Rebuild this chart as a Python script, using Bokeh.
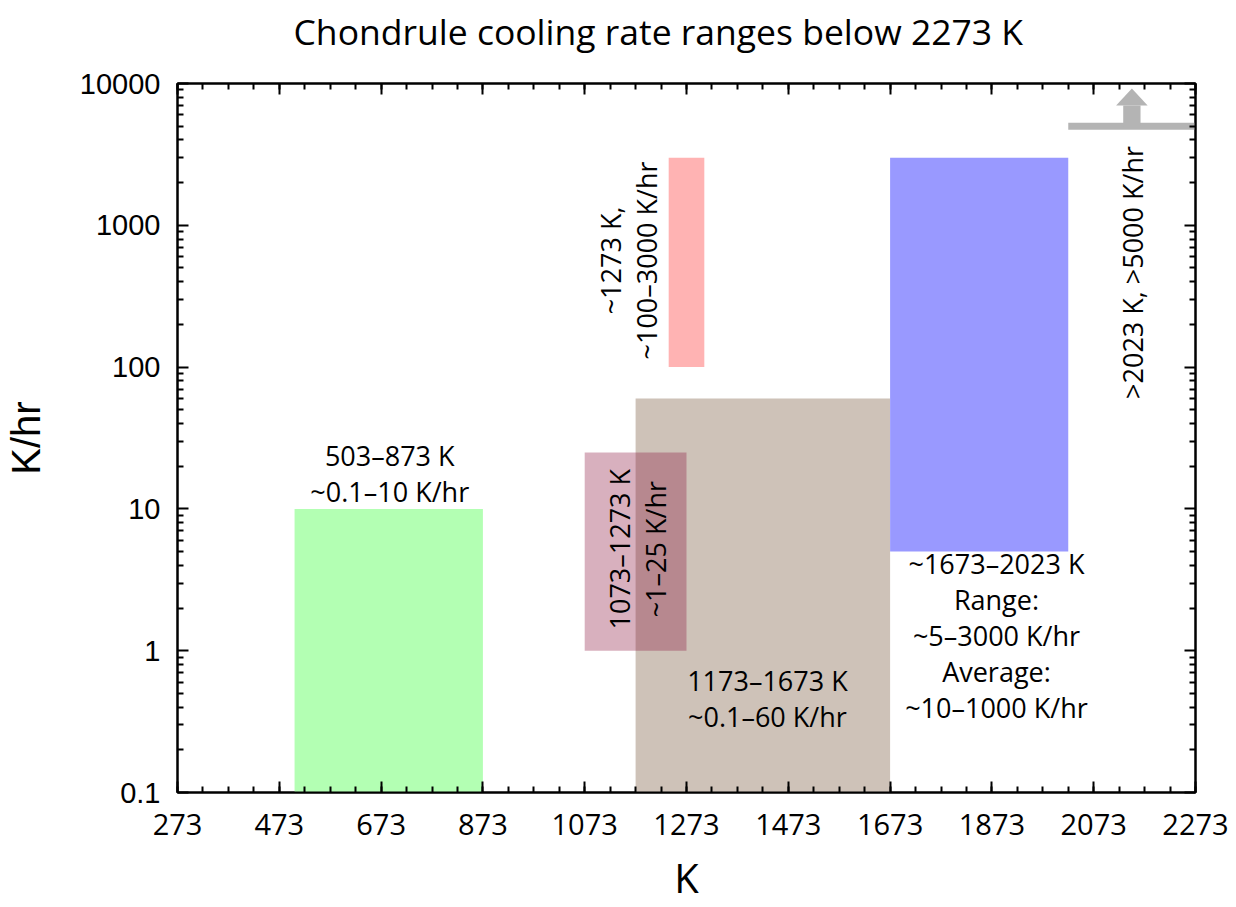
import math
from bokeh.plotting import figure
from bokeh.models import (Range1d, FixedTicker, LinearAxis, LogAxis, CustomJSTickFormatter,
                          ColumnDataSource, Title)
from bokeh.core.properties import value
from bokeh.embed import file_html
from bokeh.resources import INLINE

# ---------------- data ----------------
title_text = "Chondrule cooling rate ranges below 2273 K"
x_label_text = "K"
y_label_text = "K/hr"
x_ticks = [273, 473, 673, 873, 1073, 1273, 1473, 1673, 1873, 2073, 2273]
y_ticks = [0.1, 1, 10, 100, 1000, 10000]

# cooling-rate boxes: temperature range (K) and rate range (K/hr)
box_names = ["tan", "mauve", "green", "pink", "blue"]
box_t_lo = [1173, 1073, 503, 1238, 1673]
box_t_hi = [1673, 1273, 873, 1308, 2023]
box_r_lo = [0.1, 1, 0.1, 100, 5]
box_r_hi = [60, 25, 10, 3000, 3000]
box_colors = ["#cec2b8", "#8d1741", "#b3ffb3", "#ffb3b3", "#9999ff"]
box_alpha = [1.0, 0.34, 1.0, 1.0, 1.0]

# fastest rate: lower bound line + arrow
fast_t_lo = 2023
fast_t_hi = 2273
fast_rate = 5000
arrow_t = 2148
arrow_tip_rate = 9220
arrow_head_base_rate = 7000

# labels (horizontal)
lab_text = ["503–873 K\n~0.1–10 K/hr",
            "1173–1673 K\n~0.1–60 K/hr",
            "~1673–2023 K\nRange:\n~5–3000 K/hr\nAverage:\n~10–1000 K/hr"]
lab_x = [690, 1432, 1882]
lab_y = [17.8, 0.46, 1.28]

# labels (rotated)
rlab_text = ["~1273 K,\n~100–3000 K/hr",
             "1073–1273 K\n~1–25 K/hr",
             ">2023 K, >5000 K/hr"]
rlab_x = [1159, 1177, 2149]
rlab_y = [565, 5.2, 465]

# ---------------- figure ----------------
W, H = 1230, 907
FL, FT, FR, FB = 177, 83, 1195, 792   # frame edges on the page
p = figure(width=W, height=H, output_backend="svg", toolbar_location=None,
           x_range=Range1d(273, 2273), y_range=Range1d(0.1, 10000),
           y_axis_type="log", x_axis_type="linear",
           min_border_left=FL, min_border_right=W - FR, min_border_top=FT,
           min_border_bottom=H - FB)
p.grid.visible = False
p.background_fill_color = "white"
p.border_fill_color = "white"
p.outline_line_color = "black"
p.outline_line_width = 2

src = ColumnDataSource(dict(left=box_t_lo, right=box_t_hi, bottom=box_r_lo, top=box_r_hi,
                            color=box_colors, alpha=box_alpha))
p.quad(left="left", right="right", bottom="bottom", top="top", source=src,
       fill_color="color", fill_alpha="alpha", line_color=None)

# fast-rate bar and arrow
gray = "#b4b4b4"
p.segment(x0=[fast_t_lo], y0=[fast_rate], x1=[fast_t_hi], y1=[fast_rate],
          line_color=gray, line_width=7)
shaft_half = 17
head_half = 31
p.quad(left=[arrow_t - shaft_half], right=[arrow_t + shaft_half],
       bottom=[fast_rate], top=[arrow_head_base_rate], fill_color=gray, line_color=None)
p.patch(x=[arrow_t - head_half, arrow_t + head_half, arrow_t],
        y=[arrow_head_base_rate, arrow_head_base_rate, arrow_tip_rate],
        fill_color=gray, line_color=None)

lsrc = ColumnDataSource(dict(x=lab_x, y=lab_y, text=lab_text))
p.text(x="x", y="y", text="text", source=lsrc, text_font=value("Open Sans"),
       text_font_size="27px", text_align="center", text_baseline="middle",
       text_line_height=0.97, text_color="black")
rsrc = ColumnDataSource(dict(x=rlab_x, y=rlab_y, text=rlab_text))
p.text(x="x", y="y", text="text", source=rsrc, angle=math.pi / 2,
       text_font=value("Open Sans"), text_font_size="27px", text_align="center",
       text_baseline="middle", text_line_height=0.97, text_color="black")

# ---------------- axes ----------------
x_minor = list(range(273, 2274, 50))
y_minor = [k * 10 ** d for d in range(-1, 4) for k in range(2, 10)]
xt = FixedTicker(ticks=x_ticks, minor_ticks=x_minor)
yt = FixedTicker(ticks=y_ticks, minor_ticks=y_minor)
fmt = CustomJSTickFormatter(code="return tick.toString();")
blank = CustomJSTickFormatter(code="return ' ';")


def style(ax):
    ax.axis_line_width = 2
    ax.axis_line_color = "black"
    ax.major_tick_in = 11
    ax.major_tick_out = 0
    ax.minor_tick_in = 6
    ax.minor_tick_out = 0
    ax.major_tick_line_width = 2
    ax.minor_tick_line_width = 2
    ax.major_tick_line_color = "black"
    ax.minor_tick_line_color = "black"
    ax.major_label_text_color = "black"
    ax.axis_label_text_color = "black"


xa = p.xaxis[0]
xa.ticker = xt
style(xa)
xa.major_label_text_font = "Open Sans"
xa.major_label_text_font_size = "29px"
xa.major_label_standoff = 21
xa.axis_label = x_label_text
xa.axis_label_text_font = "Open Sans"
xa.axis_label_text_font_size = "40px"
xa.axis_label_text_font_style = "normal"
xa.axis_label_standoff = 12

ya = p.yaxis[0]
ya.ticker = yt
ya.formatter = fmt
style(ya)
ya.major_label_text_font = "Liberation Sans"
ya.major_label_text_font_size = "29px"
ya.major_label_standoff = 17
ya.axis_label = y_label_text
ya.axis_label_text_font = "Liberation Sans"
ya.axis_label_text_font_size = "40px"
ya.axis_label_text_font_style = "normal"
ya.axis_label_standoff = 29

# mirrored ticks on top and right; the top axis also spaces the title upward
top_ax = LinearAxis(ticker=xt, formatter=blank)
style(top_ax)
top_ax.major_label_text_font_size = "2px"
top_ax.major_label_standoff = 24
p.add_layout(top_ax, "above")
right_ax = LogAxis(ticker=yt, formatter=blank)
style(right_ax)
right_ax.major_label_text_font_size = "2px"
right_ax.major_label_standoff = 0
p.add_layout(right_ax, "right")

t = Title(text=title_text, align="left", offset=293 - FL, text_font="Open Sans",
          text_font_size="35.5px", text_font_style="normal", text_color="black", standoff=0)
p.add_layout(t, "above")

open("out.html", "w").write(file_html(p, INLINE))
